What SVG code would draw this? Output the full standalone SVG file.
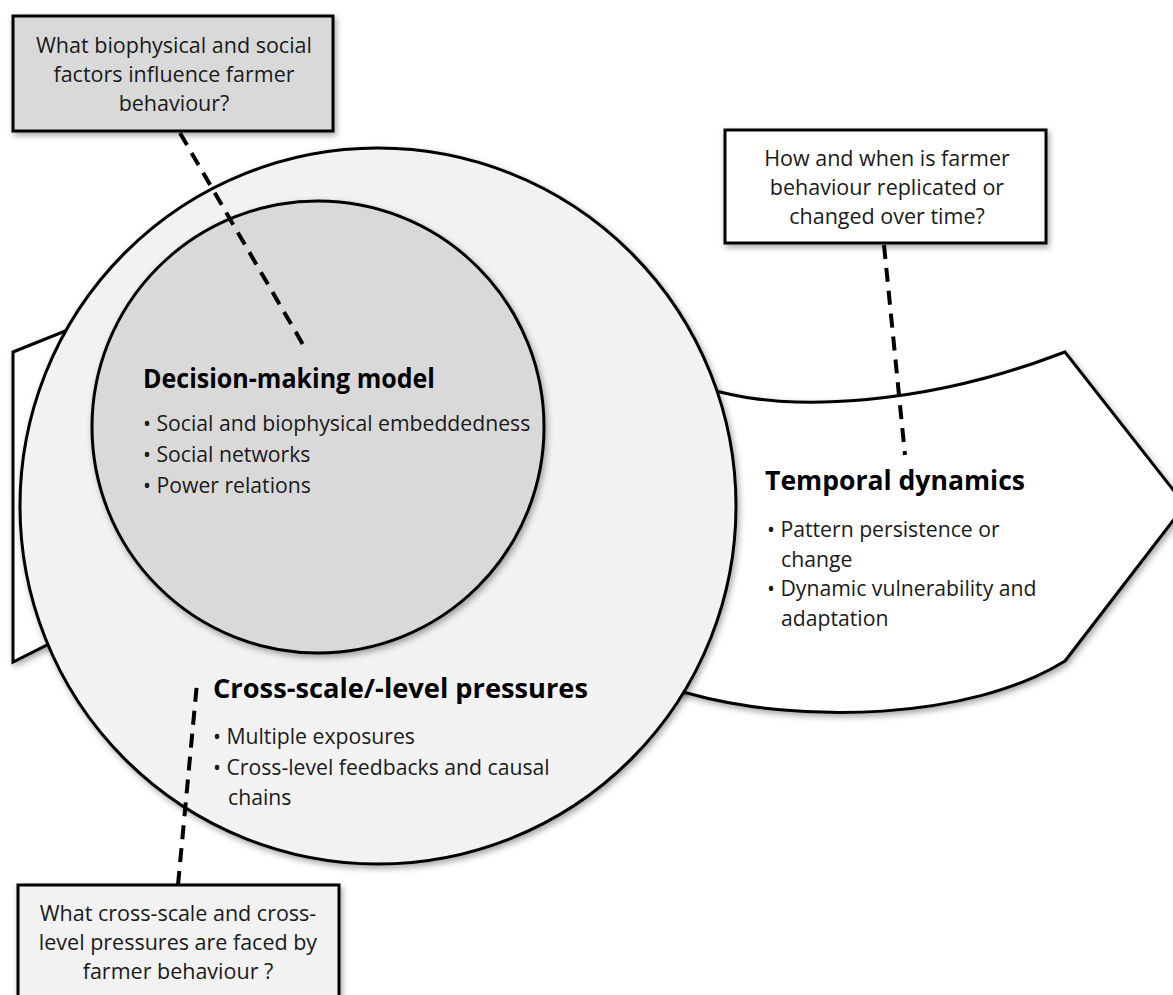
<svg xmlns="http://www.w3.org/2000/svg" width="1173" height="995" viewBox="0 0 1173 995">
  <defs>
    <filter id="sh" x="-10%" y="-10%" width="130%" height="130%">
      <feDropShadow dx="2" dy="3" stdDeviation="3" flood-color="#000" flood-opacity="0.35"/>
    </filter>
  </defs>
  <style>
    .ln { stroke: #000; stroke-width: 3; }
    .dash { fill: none; stroke: #000; stroke-width: 4; stroke-dasharray: 14 9; }
    .q { font-family: "Open Sans", "Noto Sans", sans-serif; font-size: 21.5px; fill: #1a1a1a; text-anchor: middle; }
    .t { font-family: "Open Sans", "Noto Sans", sans-serif; font-size: 26px; font-weight: bold; fill: #000; }
    .b { font-family: "Open Sans", "Noto Sans", sans-serif; font-size: 21.2px; fill: #1a1a1a; }
  </style>
  <rect width="1173" height="995" fill="#fff"/>

  <g id="tail">
    <polygon class="ln" points="13,352 140,301 140,598 13,662" fill="#fff" filter="url(#sh)"/>
  </g>

  <g id="temporal-arrow">
    <path class="ln" fill="#fff" filter="url(#sh)" d="M 650,385 L 720,392 C 790,410 920,408 1065,352 L 1185,505 L 1065,661 C 970,720 800,725 687,693 L 650,690 Z"/>
  </g>

  <g id="outer-circle">
    <circle class="ln" cx="378" cy="506" r="358" fill="#f2f2f2" filter="url(#sh)"/>
  </g>

  <g id="inner-circle">
    <circle class="ln" cx="318" cy="427" r="226" fill="#d9d9d9" filter="url(#sh)"/>
  </g>

  <g id="connectors">
    <line class="dash" x1="180" y1="133" x2="305" y2="348"/>
    <line class="dash" x1="884" y1="245" x2="905" y2="455"/>
    <line class="dash" x1="178" y1="885" x2="197" y2="683"/>
  </g>

  <g id="q-factors">
    <rect class="ln" x="13" y="16" width="320" height="115" fill="#d9d9d9" filter="url(#sh)"/>
    <text class="q" x="174" y="53">What biophysical and social</text>
    <text class="q" x="174" y="82">factors influence farmer</text>
    <text class="q" x="174" y="111">behaviour?</text>
  </g>

  <g id="q-temporal">
    <rect class="ln" x="725" y="130" width="321" height="113" fill="#fff" filter="url(#sh)"/>
    <text class="q" x="887" y="166">How and when is farmer</text>
    <text class="q" x="887" y="195">behaviour replicated or</text>
    <text class="q" x="887" y="224">changed over time?</text>
  </g>

  <g id="q-cross">
    <rect class="ln" x="18" y="885" width="321" height="125" fill="#f2f2f2" filter="url(#sh)"/>
    <text class="q" x="178" y="921">What cross-scale and cross-</text>
    <text class="q" x="178" y="950">level pressures are faced by</text>
    <text class="q" x="178" y="979">farmer behaviour ?</text>
  </g>

  <g id="decision-model">
    <text class="t" x="143" y="388" textLength="292" lengthAdjust="spacingAndGlyphs">Decision-making model</text>
    <text class="b" x="143" y="431">• Social and biophysical embeddedness</text>
    <text class="b" x="143" y="462">• Social networks</text>
    <text class="b" x="143" y="493">• Power relations</text>
  </g>

  <g id="temporal-dynamics">
    <text class="t" x="765" y="490" textLength="260" lengthAdjust="spacingAndGlyphs">Temporal dynamics</text>
    <text class="b" x="767" y="537">• Pattern persistence or</text>
    <text class="b" x="781" y="567">change</text>
    <text class="b" x="767" y="596">• Dynamic vulnerability and</text>
    <text class="b" x="781" y="626">adaptation</text>
  </g>

  <g id="cross-scale">
    <text class="t" x="213" y="698" textLength="375" lengthAdjust="spacingAndGlyphs">Cross-scale/-level pressures</text>
    <text class="b" x="213" y="744">• Multiple exposures</text>
    <text class="b" x="213" y="775">• Cross-level feedbacks and causal</text>
    <text class="b" x="228" y="805">chains</text>
  </g>
</svg>
